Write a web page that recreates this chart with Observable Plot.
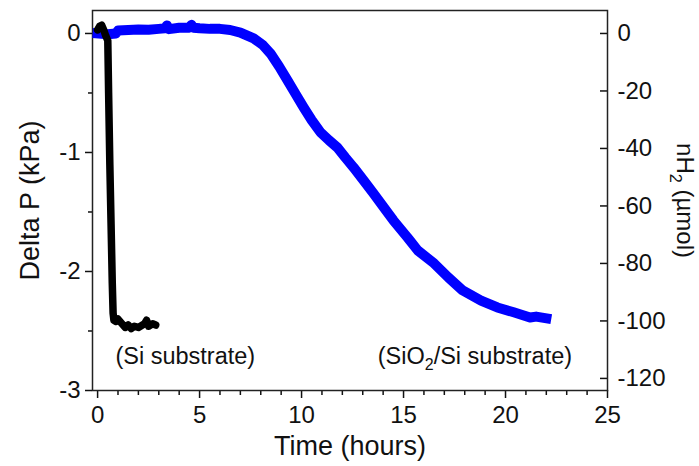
<!DOCTYPE html>
<html><head><meta charset="utf-8">
<script src="https://cdn.jsdelivr.net/npm/d3@7"></script>
<script src="https://cdn.jsdelivr.net/npm/@observablehq/plot@0.6"></script>
<style>
body{margin:0;background:#fff}
#chart svg{font-family:"Liberation Sans",Arial,sans-serif}
</style>
</head><body><div id="chart"></div>
<script>
// Si substrate: Delta P (kPa) vs time (hours)
const siTime = [0, 0.1, 0.2, 0.3, 0.4, 0.5, 0.54, 0.6, 0.66, 0.72, 0.76, 0.8, 0.9, 1.0, 1.2, 1.35, 1.5, 1.65, 1.8, 2.0, 2.2, 2.3, 2.4, 2.5, 2.7, 2.85];
const siP    = [0.03, 0.06, 0.07, 0.03, -0.02, -0.06, -0.5, -1.1, -1.6, -2.1, -2.35, -2.41, -2.42, -2.40, -2.44, -2.47, -2.45, -2.48, -2.46, -2.47, -2.45, -2.44, -2.41, -2.46, -2.44, -2.45];
// SiO2/Si substrate: nH2 (µmol) vs time (hours)
const sio2Time = [0, 0.5, 0.9, 1.0, 1.5, 2.0, 2.5, 3.0, 3.3, 3.4, 3.5, 4.0, 4.5, 4.6, 4.7, 5.0, 5.5, 6.0, 6.5, 7.0, 7.65, 8.1, 8.48, 8.9, 9.31, 9.7, 10.1, 10.5, 10.93, 11.35, 11.76, 12.15, 12.55, 13.05, 13.53, 14.0, 14.5, 15.2, 15.7, 16.5, 17.2, 17.9, 18.8, 19.6, 20.4, 21.2, 21.5, 22.0];
const sio2N    = [0, -0.3, 0, 1.0, 1.2, 1.4, 1.3, 1.6, 1.8, 2.8, 1.5, 2.0, 2.0, 3.0, 2.0, 1.8, 1.6, 1.6, 1.2, 0.3, -1.7, -4.0, -7.0, -11.5, -16.3, -21.0, -25.7, -30.2, -34.4, -37.2, -39.7, -43.2, -46.6, -51.2, -55.7, -60.2, -65.0, -71.0, -75.5, -80.0, -84.9, -89.4, -92.9, -95.3, -97.0, -98.8, -98.5, -99.1];

const xTicks = [0, 5, 10, 15, 20, 25];
const xMinor = [1, 2, 3, 4, 6, 7, 8, 9, 11, 12, 13, 14, 16, 17, 18, 19, 21, 22, 23, 24];
const pTicks = [0, -1, -2, -3];
const pMinor = [-0.5, -1.5, -2.5];
const nTicks = [0, -20, -40, -60, -80, -100, -120];

const annotationText = ["(Si substrate)", "(SiO2/Si substrate)"];
const annotationX = [4.3, 18.5];
const annotationY = [-2.71, -2.71];

const k = 41.4; // µmol per kPa (right axis alignment)

const siData = siTime.map((t, i) => ({t, v: siP[i]}));
const sio2Data = sio2Time.map((t, i) => ({t, v: sio2N[i] / k}));
const annData = annotationText.map((s, i) => ({s, x: annotationX[i], y: annotationY[i]}));

const plot = Plot.plot({
  width: 699, height: 466,
  marginLeft: 92, marginRight: 92, marginTop: 10, marginBottom: 76,
  x: {domain: [-0.25, 25]},
  y: {domain: [-3, 0.193]},
  style: {fontFamily: "'Liberation Sans', Arial, sans-serif", color: "#111", background: "#fff", overflow: "visible"},
  marks: [
    Plot.axisX(xTicks, {tickSize: 8, tickPadding: 7, fontSize: 24, strokeWidth: 1.5, label: null, tickFormat: d => String(d)}),
    Plot.axisX(xMinor, {tickSize: 5, strokeWidth: 1.5, label: null, tickFormat: () => ""}),
    Plot.axisY(pTicks, {anchor: "left", tickSize: 7, tickPadding: 5, fontSize: 24, strokeWidth: 1.5, label: null, tickFormat: d => String(d)}),
    Plot.axisY(pMinor, {anchor: "left", tickSize: 4, strokeWidth: 1.5, label: null, tickFormat: () => ""}),
    Plot.axisY(nTicks.map(v => v / k), {anchor: "right", tickSize: -8, tickPadding: 18, fontSize: 24, strokeWidth: 1.5, label: null, tickFormat: v => String(Math.round(v * k))}),
    Plot.frame({stroke: "#222", strokeWidth: 1.5}),
    Plot.line(sio2Data, {x: "t", y: "v", stroke: "#0000ff", strokeWidth: 10, strokeLinejoin: "round", strokeLinecap: "square"}),
    Plot.line(siData, {x: "t", y: "v", stroke: "#000", strokeWidth: 7.5, strokeLinejoin: "round", strokeLinecap: "round"}),
    Plot.text(annData, {x: "x", y: "y", text: "s", fontSize: 23.5, fill: "#111"}),
    Plot.text(["Delta P (kPa)"], {text: d => d, frameAnchor: "left", textAnchor: "middle", dx: -62, rotate: -90, fontSize: 27, fill: "#111"}),
    Plot.text(["nH2 (µmol)"], {text: d => d, frameAnchor: "right", textAnchor: "middle", dx: 77, rotate: 90, fontSize: 24, fill: "#111"}),
    Plot.text(["Time (hours)"], {text: d => d, frameAnchor: "bottom", dy: 64, fontSize: 27, fill: "#111"})
  ]
});

// subscripts for chemical formulas (real text kept)
plot.querySelectorAll("text").forEach(el => {
  const s = el.textContent;
  const m = s.match(/^(.*?[A-Za-z])2(.*)$/);
  if (!m || /^[-\d]/.test(s)) return;
  const fs = parseFloat(el.getAttribute("font-size") || el.parentNode.getAttribute("font-size") || 24);
  el.textContent = "";
  const ns = "http://www.w3.org/2000/svg";
  const a = document.createElementNS(ns, "tspan"); a.textContent = m[1];
  const b = document.createElementNS(ns, "tspan"); b.textContent = "2";
  b.setAttribute("font-size", (fs * 0.68).toFixed(1)); b.setAttribute("dy", (fs * 0.28).toFixed(1));
  const c = document.createElementNS(ns, "tspan"); c.textContent = m[2]; c.setAttribute("dy", (-fs * 0.28).toFixed(1));
  el.append(a, b, c);
});

document.getElementById("chart").append(plot);
</script>
</body></html>
